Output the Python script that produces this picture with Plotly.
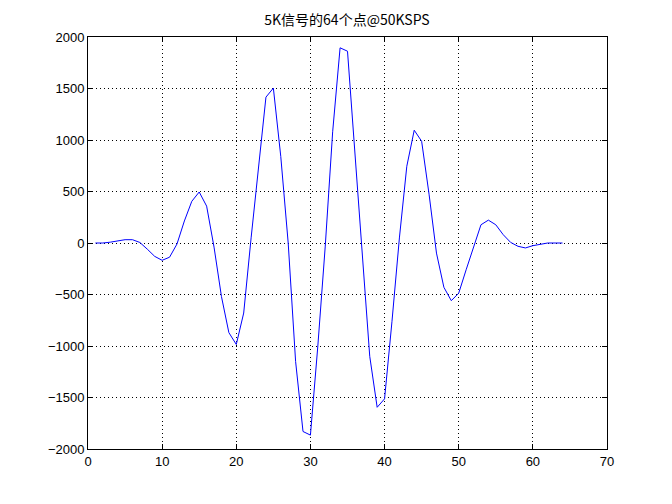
"""
5K信号的64个点@50KSPS 波形图
"""
import plotly.graph_objects as go

# 采样点序号 1..64
sample_index = list(range(1, 65))

# 读取自参考图的采样值
sample_values = [
    0, 0, 8, 22, 32, 32, 5, -60, -130, -168,
    -138, -10, 214, 405, 495, 358, -40, -520, -870, -985,
    -680, 50, 730, 1416, 1504, 840, 0, -1150, -1830, -1865,
    -1000, -30, 1080, 1895, 1862, 900, -150, -1100, -1595, -1513,
    -760, 49, 745, 1095, 988, 474, -98, -430, -560, -487,
    -260, -30, 177, 222, 177, 81, 6, -32, -48, -26,
    -10, 0, 0, 0,
]

title_text = "5K信号的64个点@50KSPS"

# 页面 body 默认有 8px 边距，图尺寸相应缩小
W, H = 664, 488

fig = go.Figure(go.Scatter(
    x=sample_index,
    y=sample_values,
    mode='lines',
    line=dict(color='#0000ff', width=1),
    showlegend=False,
))

axis_style = dict(
    showline=True,
    linecolor='black',
    linewidth=1,
    mirror='ticks',
    ticks='inside',
    ticklen=5,
    tickcolor='black',
    showgrid=True,
    gridcolor='black',
    griddash='1px,3px',
    gridwidth=1,
    zeroline=False,
    tickfont=dict(family='Liberation Sans, Arial', size=13, color='black'),
)

fig.update_xaxes(range=[0, 70], dtick=10, **axis_style)
fig.update_yaxes(range=[-2000, 2000], dtick=500, **axis_style)

fig.update_layout(
    width=W,
    height=H,
    margin=dict(l=80, r=65, t=29, b=47),
    paper_bgcolor='white',
    plot_bgcolor='white',
    title=dict(
        text=title_text,
        x=339 / W,
        xanchor='center',
        y=1 - 12 / H,
        yanchor='middle',
        font=dict(family='Noto Sans CJK SC, Liberation Sans', size=14, color='black'),
    ),
)

fig.write_html("out.html")
